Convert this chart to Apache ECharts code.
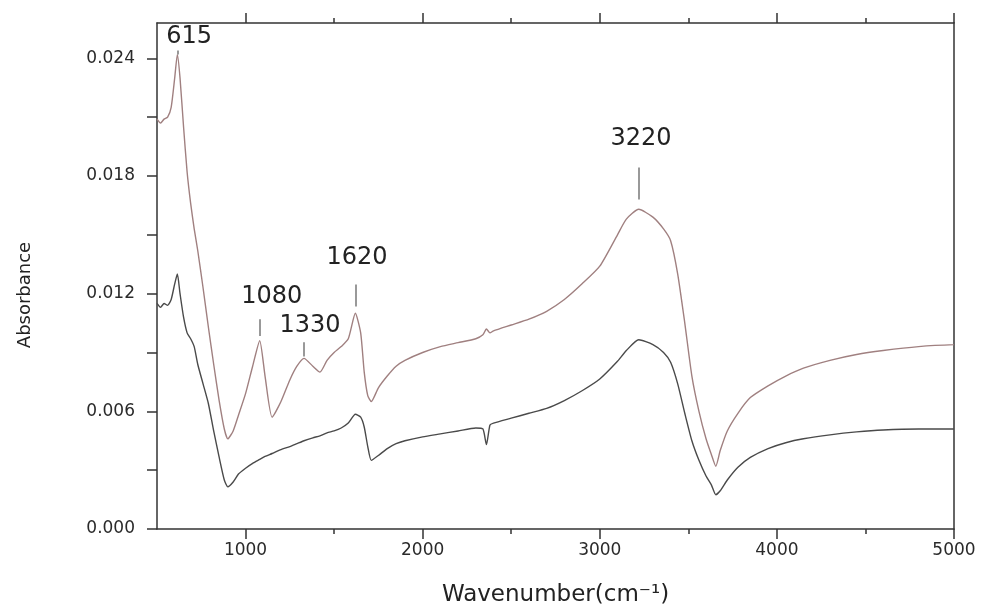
<!DOCTYPE html>
<html>
<head>
<meta charset="utf-8">
<script src="https://cdn.jsdelivr.net/npm/echarts@6/dist/echarts.min.js"></script>
<style>
html,body{margin:0;padding:0;background:#fff;}
#chart{width:984px;height:612px;}
</style>
</head>
<body>
<div id="chart"></div>
<script>
// ---- data ----
const wavenumbers = [500, 520, 540, 560, 580, 600, 615, 630, 650, 670, 690, 710, 730, 760, 790, 820, 850, 880, 900, 930, 960, 1000, 1040, 1080, 1110, 1150, 1200, 1250, 1290, 1330, 1380, 1420, 1460, 1500, 1540, 1580, 1620, 1650, 1670, 1690, 1710, 1750, 1800, 1850, 1900, 2000, 2100, 2200, 2300, 2340, 2360, 2380, 2400, 2500, 2600, 2700, 2800, 2900, 3000, 3100, 3150, 3220, 3300, 3360, 3400, 3440, 3480, 3520, 3560, 3600, 3630, 3655, 3680, 3720, 3780, 3850, 3950, 4050, 4150, 4300, 4450, 4600, 4800, 5000];
const upperAbsorbance = [0.0209, 0.0207, 0.0209, 0.0210, 0.0215, 0.0230, 0.0242, 0.0230, 0.0205, 0.0182, 0.0166, 0.0153, 0.0142, 0.0123, 0.0103, 0.0084, 0.0066, 0.0051, 0.0046, 0.0050, 0.0058, 0.0069, 0.0083, 0.0096, 0.0078, 0.0057, 0.0065, 0.0076, 0.0083, 0.0087, 0.0083, 0.0080, 0.0086, 0.0090, 0.0093, 0.0097, 0.0110, 0.0100, 0.0080, 0.0068, 0.0065, 0.0072, 0.0078, 0.0083, 0.0086, 0.0090, 0.0093, 0.0095, 0.0097, 0.0099, 0.0102, 0.0100, 0.0101, 0.0104, 0.0107, 0.0111, 0.0117, 0.0125, 0.0134, 0.0150, 0.0158, 0.0163, 0.0159, 0.0153, 0.0147, 0.0130, 0.0105, 0.0078, 0.0060, 0.0046, 0.0038, 0.0032, 0.0040, 0.0050, 0.0059, 0.0067, 0.0073, 0.0078, 0.0082, 0.0086, 0.0089, 0.0091, 0.0093, 0.0094];
const lowerAbsorbance = [0.01150, 0.01130, 0.01150, 0.01140, 0.01170, 0.01250, 0.01300, 0.01200, 0.01080, 0.01000, 0.00970, 0.00930, 0.00840, 0.00740, 0.00640, 0.00500, 0.00370, 0.00250, 0.00215, 0.00240, 0.00280, 0.00310, 0.00335, 0.00355, 0.00370, 0.00385, 0.00405, 0.00420, 0.00435, 0.00450, 0.00465, 0.00475, 0.00490, 0.00500, 0.00515, 0.00540, 0.00585, 0.00570, 0.00520, 0.00420, 0.00350, 0.00375, 0.00410, 0.00435, 0.00450, 0.00470, 0.00485, 0.00500, 0.00515, 0.00510, 0.00430, 0.00530, 0.00540, 0.00565, 0.00590, 0.00615, 0.00655, 0.00705, 0.00765, 0.00855, 0.00910, 0.00965, 0.00940, 0.00900, 0.00850, 0.00740, 0.00590, 0.00450, 0.00350, 0.00270, 0.00225, 0.00175, 0.00195, 0.00250, 0.00315, 0.00365, 0.00410, 0.00440, 0.00460, 0.00480, 0.00495, 0.00505, 0.00510, 0.00510];

const xTickLabels = [1000, 2000, 3000, 4000, 5000];
const xMinorTicks = [1500, 2500, 3500, 4500];
const yTickLabels = [0, 0.006, 0.012, 0.018, 0.024];
const yTicks = [0, 0.003, 0.006, 0.009, 0.012, 0.015, 0.018, 0.021, 0.024];

// peak annotations (wavenumber, text, marker segment top/bottom, text anchor in data units)
const peakWavenumbers = [615, 1080, 1330, 1620, 3220];
const peakLabels = ['615', '1080', '1330', '1620', '3220'];
const peakMarkTop = [0.0244, 0.01069, 0.00952, 0.01247, 0.01843];
const peakMarkBottom = [0.0242, 0.00984, 0.00880, 0.01135, 0.01680];
const peakTextX = [681, 1148, 1364, 1629, 3233];
const peakTextY = [0.02509, 0.01184, 0.01035, 0.01384, 0.01990];

const zip = (xs, ys) => xs.map((x, i) => [x, ys[i]]);

const FONT = 'DejaVu Sans';
const AX = '#333';

const chart = echarts.init(document.getElementById('chart'), null, {renderer: 'canvas'});
chart.setOption({
  animation: false,
  backgroundColor: '#fff',
  grid: {left: 157, right: 30, top: 23, bottom: 82},
  xAxis: [
    {
      type: 'value', min: 500, max: 5000, position: 'bottom',
      axisLine: {show: true, lineStyle: {color: AX, width: 1.5}},
      axisTick: {show: true, customValues: xTickLabels, length: 10, lineStyle: {color: AX, width: 1.5}},
      axisLabel: {customValues: xTickLabels, margin: 13, fontSize: 17, color: '#2a2a2a', fontFamily: FONT,
                  formatter: v => String(v)},
      splitLine: {show: false},
      name: 'Wavenumber(cm⁻¹)', nameLocation: 'middle', nameGap: 55,
      nameTextStyle: {fontSize: 23, color: '#222', fontFamily: FONT}
    },
    {
      type: 'value', min: 500, max: 5000, position: 'bottom',
      axisLine: {show: false},
      axisTick: {show: true, customValues: xMinorTicks, length: 5, lineStyle: {color: AX, width: 1.5}},
      axisLabel: {show: false}, splitLine: {show: false}
    },
    {
      type: 'value', min: 500, max: 5000, position: 'top',
      axisLine: {show: true, lineStyle: {color: AX, width: 1.5}},
      axisTick: {show: true, customValues: xTickLabels, length: 10, lineStyle: {color: AX, width: 1.5}},
      axisLabel: {show: false}, splitLine: {show: false}
    },
    {
      type: 'value', min: 500, max: 5000, position: 'top',
      axisLine: {show: false},
      axisTick: {show: true, customValues: xMinorTicks, length: 5, lineStyle: {color: AX, width: 1.5}},
      axisLabel: {show: false}, splitLine: {show: false}
    }
  ],
  yAxis: [
    {
      type: 'value', min: 0, max: 0.0258, position: 'left',
      axisLine: {show: true, lineStyle: {color: AX, width: 1.5}},
      axisTick: {show: true, customValues: yTicks, length: 10, lineStyle: {color: AX, width: 1.5}},
      axisLabel: {customValues: yTickLabels, margin: 22, fontSize: 17, color: '#2a2a2a', fontFamily: FONT,
                  formatter: v => v.toFixed(3)},
      splitLine: {show: false}
    },
    {
      type: 'value', min: 0, max: 0.0258, position: 'right',
      axisLine: {show: true, lineStyle: {color: AX, width: 1.5}},
      axisTick: {show: false}, axisLabel: {show: false}, splitLine: {show: false}
    }
  ],
  graphic: [{
    type: 'text', x: 25, y: 295, rotation: Math.PI / 2,
    style: {text: 'Absorbance', fontSize: 18, fontFamily: FONT, fill: '#222', align: 'center', verticalAlign: 'middle'}
  }],
  series: [
    {
      type: 'line', name: 'upper', xAxisIndex: 0, yAxisIndex: 0,
      data: zip(wavenumbers, upperAbsorbance),
      showSymbol: false, smooth: 0.2,
      lineStyle: {color: '#a08080', width: 1.4},
      markLine: {
        silent: true, symbol: ['none', 'none'], animation: false,
        lineStyle: {color: '#999', width: 2, type: 'solid'},
        label: {show: false},
        data: peakWavenumbers.map((w, i) => [{coord: [w, peakMarkTop[i]]}, {coord: [w, peakMarkBottom[i]]}])
      },
      markPoint: {
        silent: true, symbol: 'circle', symbolSize: 0, animation: false,
        label: {show: true, position: 'inside', fontSize: 24, fontFamily: FONT, color: '#222', formatter: p => p.name},
        data: peakLabels.map((t, i) => ({name: t, coord: [peakTextX[i], peakTextY[i]]}))
      }
    },
    {
      type: 'line', name: 'lower', xAxisIndex: 0, yAxisIndex: 0,
      data: zip(wavenumbers, lowerAbsorbance),
      showSymbol: false, smooth: 0.2,
      lineStyle: {color: '#4a4a4a', width: 1.4}
    }
  ]
});
</script>
</body>
</html>
